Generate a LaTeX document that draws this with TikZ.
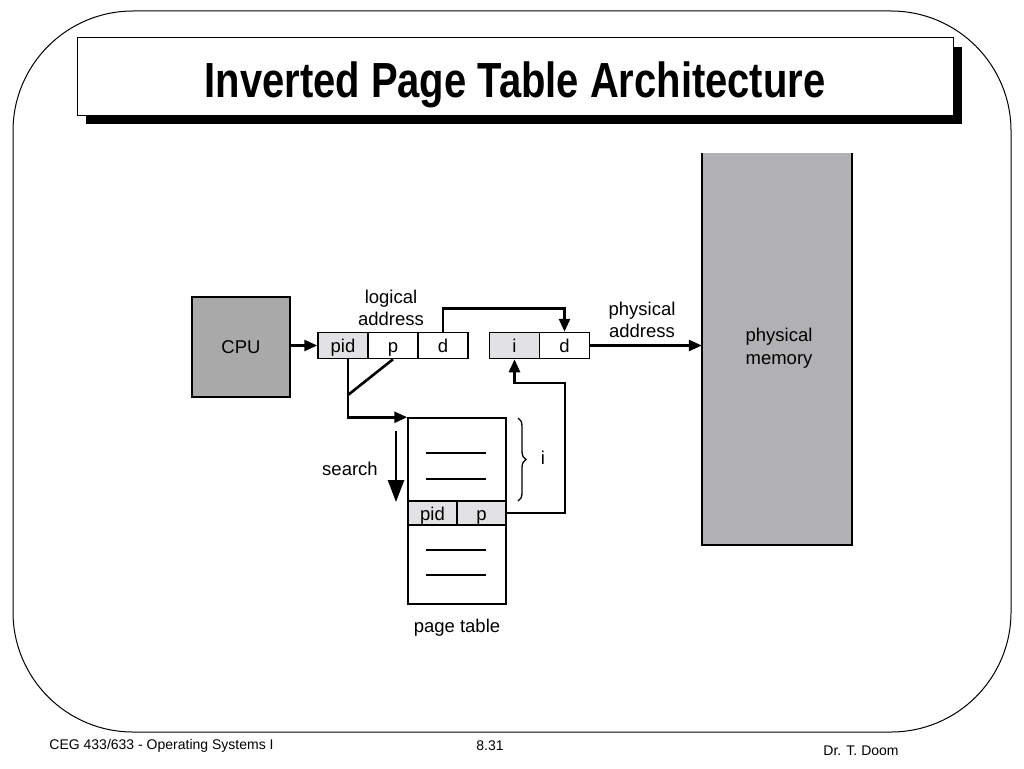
\documentclass[tikz,border=0pt]{standalone}
\usepackage{fontspec}
\setmainfont{Liberation Sans}
\usetikzlibrary{arrows.meta,decorations.pathreplacing,shadows}
\definecolor{cpugray}{HTML}{A9A9A9}
\definecolor{memgray}{HTML}{B1B0B3}
\definecolor{cellgray}{HTML}{E2E1E3}
\tikzset{every node/.style={font=\fontsize{18.5}{22.5}\selectfont, inner sep=0pt},
  box/.style={draw, line width=1.5pt, minimum width=#1, minimum height=26pt,
    text height=17pt, text depth=3pt},
  box/.default=50pt,
  link/.style={line width=2.6pt},
  arr/.style={link, -{Triangle[length=13pt,width=11pt]}},
  label/.style={align=center}}
\begin{document}
\begin{tikzpicture}[x=1pt,y=-1pt]
  \useasboundingbox (0,0) rectangle (1024,768);
  \draw[line width=1pt,rounded corners=120pt] (13,11) rectangle (1011,732);
  % title
  \node[draw,fill=white,line width=1pt,minimum width=876pt,minimum height=77pt,
        text height=41pt,text depth=0pt,
        drop shadow={shadow xshift=9pt,shadow yshift=-9pt,opacity=1,fill=black}]
        (title) at (515,76.5) {\scalebox{0.85}[1.05]{\fontsize{47}{50}\selectfont\bfseries Inverted Page Table Architecture}};
  % cpu and memory
  \node[draw,fill=cpugray,line width=1.5pt,minimum width=98pt,minimum height=100pt] (cpu) at (241,347) {CPU};
  \node[fill=memgray,minimum width=150pt,minimum height=392pt] (mem) at (777,349) {};
  \draw[line width=1.5pt] (mem.north west) |- (mem.south east) -- (mem.north east);
  \node[label] (memtxt) at (779,348) {physical\\memory};
  % logical address
  \node[box,fill=cellgray] (lpid) at (343,345.5) {pid};
  \node[box] (lp) at (393,345.5) {p};
  \node[box] (ld) at (443,345.5) {d};
  \node[label] (ltxt) at (391,308) {logical\\address};
  % physical address
  \node[box,fill=cellgray] (pi) at (514.5,345.5) {i};
  \node[box] (pd) at (564.5,345.5) {d};
  \node[label] (ptxt) at (642,320) {physical\\address};
  % page table
  \node[draw,line width=1.5pt,minimum width=98pt,minimum height=186pt] (pt) at (457,511) {};
  \node[box=49pt,fill=cellgray,minimum height=24pt] (tpid) at (432.5,513) {pid};
  \node[box=49pt,fill=cellgray,minimum height=24pt] (tp) at (481.5,513) {p};
  \foreach \y in {453,479,550,575}
    \draw[line width=1.2pt] (426,\y) -- (486,\y);
  \node (pttxt) at (457,628) {page table};
  % connectors
  \coordinate (j) at (348,395);
  \coordinate (k) at (565,383);
  \coordinate (s0) at (396,431);
  \coordinate (s1) at (396,502);
  \draw[arr] (cpu.east |- lpid) -- (lpid.west);
  \draw[arr] (ld.north) -- ++(0,-23) -| (pd.north);
  \draw[arr] (pd.east) -- (pd.east -| mem.west);
  \draw[arr] ([xshift=5pt]lpid.south) |- (pt.north west);
  \draw[link] (lp.south) -- (j);
  \draw[arr] (tp.east) -| (k) -| (pi.south);
  \draw[link,-{Triangle[length=22pt,width=16pt]}] (s0) -- (s1);
  \node (search) at (350,469) {search};
  \draw[line width=1.3pt,decorate,decoration={brace,amplitude=8pt}] (518,418) -- (518,501);
  \node (itxt) at (543,458) {i};
  % footer
  \node[font=\fontsize{14}{16}\selectfont] (foot1) at (161.5,746) {CEG 433/633 - Operating Systems I};
  \node[font=\fontsize{14}{16}\selectfont] (foot2) at (490,746) {8.31};
  \node[font=\fontsize{14}{16}\selectfont] (foot3) at (861,751) {Dr. T. Doom};
\end{tikzpicture}
\end{document}
